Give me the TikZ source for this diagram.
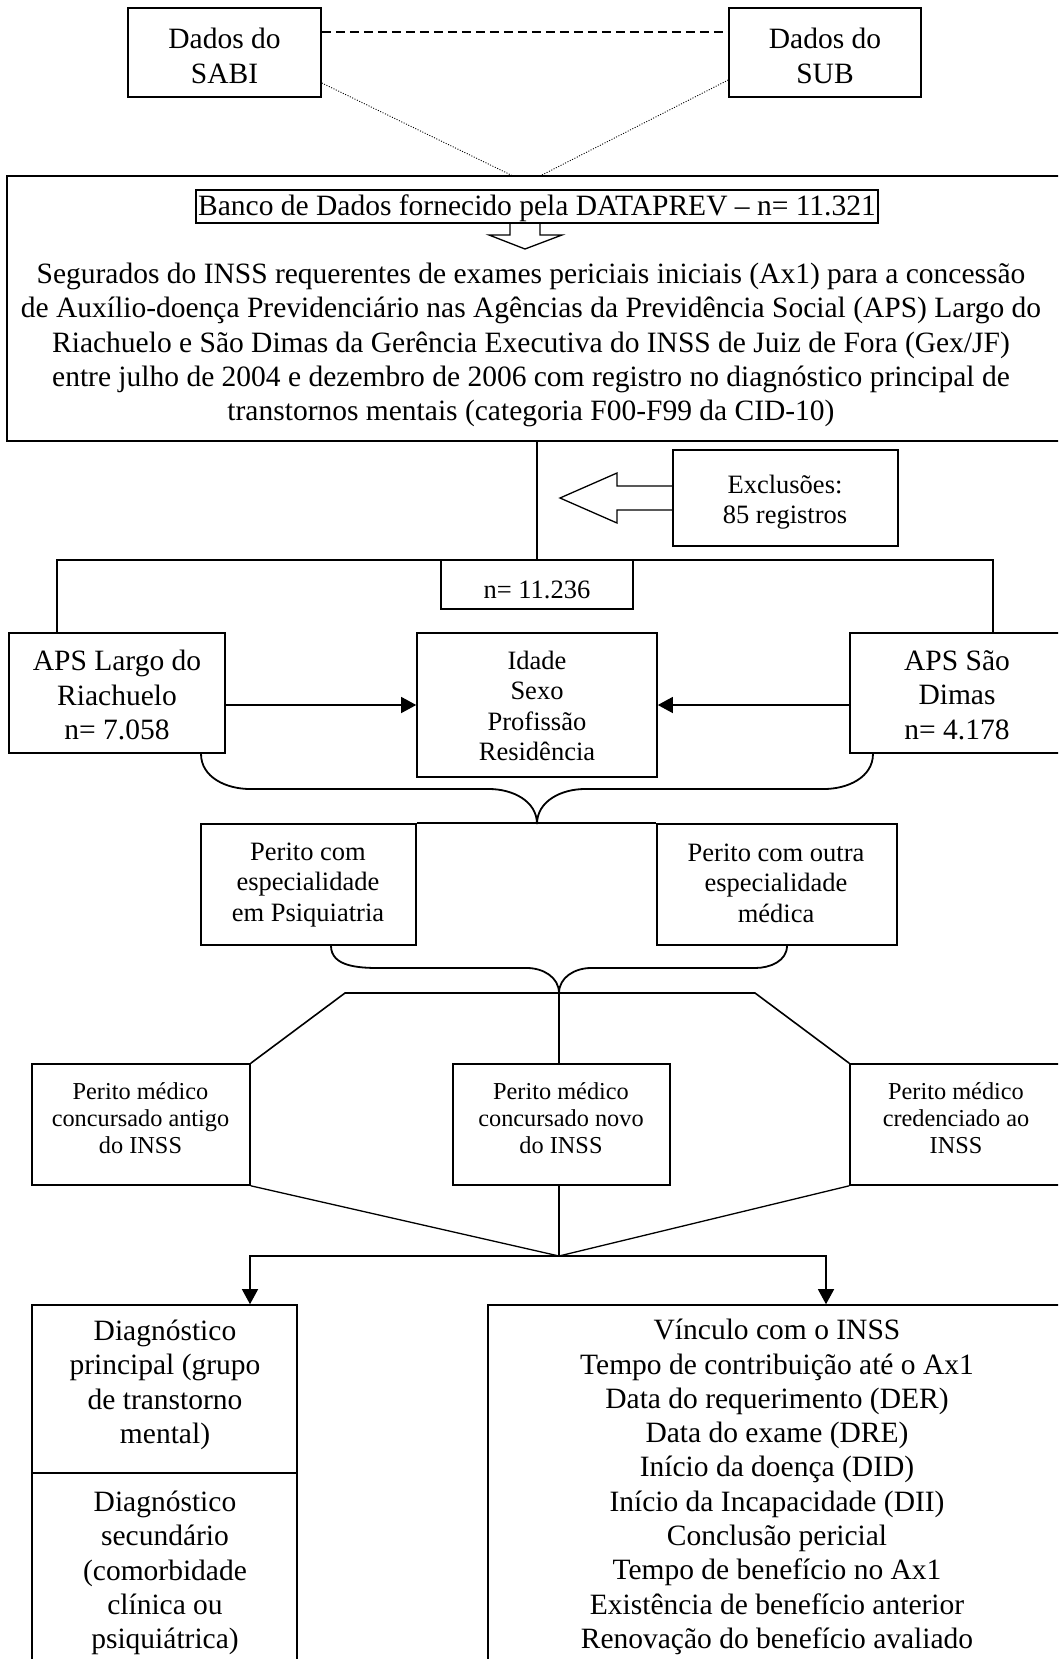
\documentclass[tikz,border=0pt]{standalone}
\usepackage{fontspec}
\setmainfont{Liberation Serif}
\usetikzlibrary{arrows.meta}
\newcommand{\fbig}{\fontsize{29.5}{34.3}\selectfont}
\newcommand{\fmid}{\fontsize{26.5}{30.5}\selectfont}
\newcommand{\fsml}{\fontsize{24.3}{26.8}\selectfont}
\begin{document}
\begin{tikzpicture}[x=1pt,y=1pt,
  box/.style={draw, line width=1.6pt, inner sep=0pt},
  txt/.style={align=center, inner sep=0pt},
  conn/.style={line width=1.3pt},
  brace/.style={line width=1.8pt},
  arr/.style={line width=1.3pt, -{Triangle[length=15pt,width=16pt]}},
  hollow/.style={line width=1.3pt, line join=miter}]
\useasboundingbox (0,0) rectangle (1058,-1659);
\clip (0,0) rectangle (1058,-1659);
\fill[white] (0,0) rectangle (1058,-1659);

% ---- boxes ----
\node[box, minimum width=193pt, minimum height=89pt] (sabi) at (224.5,-52.5) {};
\node[box, minimum width=192pt, minimum height=89pt] (sub) at (825,-52.5) {};
\node[box, minimum width=1068pt, minimum height=265pt] (big) at (541,-308.5) {};
\node[box, minimum width=682pt, minimum height=33pt] (banco) at (537,-206.5) {};
\node[box, minimum width=225pt, minimum height=96pt] (excl) at (785.5,-498) {};
\node[box, minimum width=192pt, minimum height=49pt] (nbox) at (537,-584.5) {};
\node[box, minimum width=216pt, minimum height=120pt] (apsl) at (117,-693) {};
\node[box, minimum width=240pt, minimum height=144pt] (idade) at (537,-705) {};
\node[box, minimum width=225pt, minimum height=120pt] (apsd) at (962.5,-693) {};
\node[box, minimum width=215pt, minimum height=121pt] (psiq) at (308.5,-884.5) {};
\node[box, minimum width=240pt, minimum height=121pt] (outra) at (777,-884.5) {};
\node[box, minimum width=218pt, minimum height=121pt] (antigo) at (141,-1124.5) {};
\node[box, minimum width=217pt, minimum height=121pt] (novo) at (561.5,-1124.5) {};
\node[box, minimum width=225pt, minimum height=121pt] (cred) at (962.5,-1124.5) {};
\node[box, minimum width=265pt, minimum height=168pt] (diag1) at (164.5,-1389) {};
\node[box, minimum width=265pt, minimum height=227pt] (diag2) at (164.5,-1586.5) {};
\node[box, minimum width=587pt, minimum height=395pt] (vinc) at (781.5,-1502.5) {};

% ---- texts ----
\node[txt, font=\fbig] (sabit) at (224.5,-56) {\fontsize{29.5}{33}\selectfont Dados do\\SABI};
\node[txt, font=\fbig] (subt) at (825,-56) {\fontsize{29.5}{33}\selectfont Dados do\\SUB};
\node[txt, font=\fbig] (bancot) at (537,-208) {Banco de Dados fornecido pela DATAPREV -- n= 11.321};
\node[txt, font=\fbig] (bigt) at (531,-345) {Segurados do INSS requerentes de exames periciais iniciais (Ax1) para a concessão\\
de Auxílio-doença Previdenciário nas Agências da Previdência Social (APS) Largo do\\
Riachuelo e São Dimas da Gerência Executiva do INSS de Juiz de Fora (Gex/JF)\\
entre julho de 2004 e dezembro de 2006 com registro no diagnóstico principal de\\
transtornos mentais (categoria F00-F99 da CID-10)};
\node[txt, font=\fmid] (exclt) at (785,-502) {\fontsize{26.5}{29}\selectfont Exclusões:\\85 registros};
\node[txt, font=\fmid] (nt) at (537,-590) {n= 11.236};
\node[txt, font=\fbig] (apslt) at (117,-695) {APS Largo do\\Riachuelo\\n= 7.058};
\node[txt, font=\fmid] (idadet) at (537,-706) {Idade\\Sexo\\Profissão\\Residência};
\node[txt, font=\fbig] (apsdt) at (957,-695) {APS São\\Dimas\\n= 4.178};
\node[txt, font=\fmid] (psiqt) at (308,-885) {Perito com\\especialidade\\em Psiquiatria};
\node[txt, font=\fmid] (outrat) at (776,-883) {Perito com outra\\especialidade\\médica};
\node[txt, font=\fsml] (antigot) at (140.5,-1118) {Perito médico\\concursado antigo\\do INSS};
\node[txt, font=\fsml] (novot) at (561,-1118) {Perito médico\\concursado novo\\do INSS};
\node[txt, font=\fsml] (credt) at (956,-1118) {Perito médico\\credenciado ao\\INSS};
\node[txt, font=\fbig] (diag1t) at (165,-1385) {Diagnóstico\\principal (grupo\\de transtorno\\mental)};
\node[txt, font=\fbig] (diag2t) at (165,-1573) {Diagnóstico\\secundário\\(comorbidade\\clínica ou\\psiquiátrica)};
\node[txt, font=\fbig] (vinct) at (777,-1487) {\fontsize{29.5}{33.8}\selectfont Vínculo com o INSS\\
Tempo de contribuição até o Ax1\\
Data do requerimento (DER)\\
Data do exame (DRE)\\
Início da doença (DID)\\
Início da Incapacidade (DII)\\
Conclusão pericial\\
Tempo de benefício no Ax1\\
Existência de benefício anterior\\
Renovação do benefício avaliado};

% ---- top connectors ----
\coordinate (dotl) at (513,-176);
\coordinate (dotr) at (540,-176);
\draw[line width=1.3pt, dash pattern=on 9pt off 5pt] ([yshift=20.5pt]sabi.east) -- ([yshift=20.5pt]sub.west);
\draw[line width=0.9pt, dash pattern=on 1pt off 1.6pt] ([yshift=-30.5pt]sabi.east) -- (dotl);
\draw[line width=0.9pt, dash pattern=on 1pt off 1.6pt] ([yshift=-27.5pt]sub.west) -- (dotr);

% hollow down arrow
\draw[hollow] (banco.south -| 510,0) -- (510,-235) -- (489,-235) -- (525,-249) -- (562,-235) -- (540,-235) -- (banco.south -| 540,0);

% exclusions
\draw[conn] (nbox.north |- big.south) -- (nbox.north);
\draw[hollow] ([yshift=12pt]excl.west) -- (617,-486) -- (617,-473) -- (560,-498) -- (617,-523) -- (617,-510) -- ([yshift=-12pt]excl.west);

% split line
\coordinate (hl) at (57,-560);
\coordinate (hr) at (993,-560);
\draw[conn] (hl |- apsl.north) -- (hl) -- (hr) -- (hr |- apsd.north);

% arrows to Idade box
\draw[arr] (apsl.east |- idade.west) -- (idade.west);
\draw[arr] (apsd.west |- idade.west) -- (idade.east);

% brace 1
\coordinate (b1) at (537,-824);
\draw[brace] ([xshift=84pt]apsl.south) to[out=-90,in=180] (250,-789) -- (489,-789) to[out=0,in=90] (b1);
\draw[brace] ([xshift=-89.5pt]apsd.south) to[out=-90,in=0] (824,-789) -- (585,-789) to[out=180,in=90] (b1);
\draw[box] (psiq.north east) -- (outra.north west);

% brace 2
\coordinate (b2) at (559,-993);
\draw[brace] ([xshift=22.5pt]psiq.south) to[out=-90,in=180] (379,-968) -- (527,-968) to[out=0,in=90] (b2);
\draw[brace] ([xshift=10pt]outra.south) to[out=-90,in=0] (755,-968) -- (591,-968) to[out=180,in=90] (b2);

% trapezoid
\draw[box] (antigo.north east) -- (345,-993) -- (755,-993) -- (cred.north west);
\draw[conn] (b2) -- (b2 |- novo.north);

% funnel
\coordinate (b3) at (559,-1256);
\draw[conn] (antigo.south east) -- (b3) -- (cred.south west);
\draw[conn] (b3 |- novo.south) -- (b3);
\draw[arr] (b3) -| ([xshift=85.5pt]diag1.north);
\draw[arr] (b3) -| ([xshift=44.5pt]vinc.north);
\end{tikzpicture}
\end{document}
